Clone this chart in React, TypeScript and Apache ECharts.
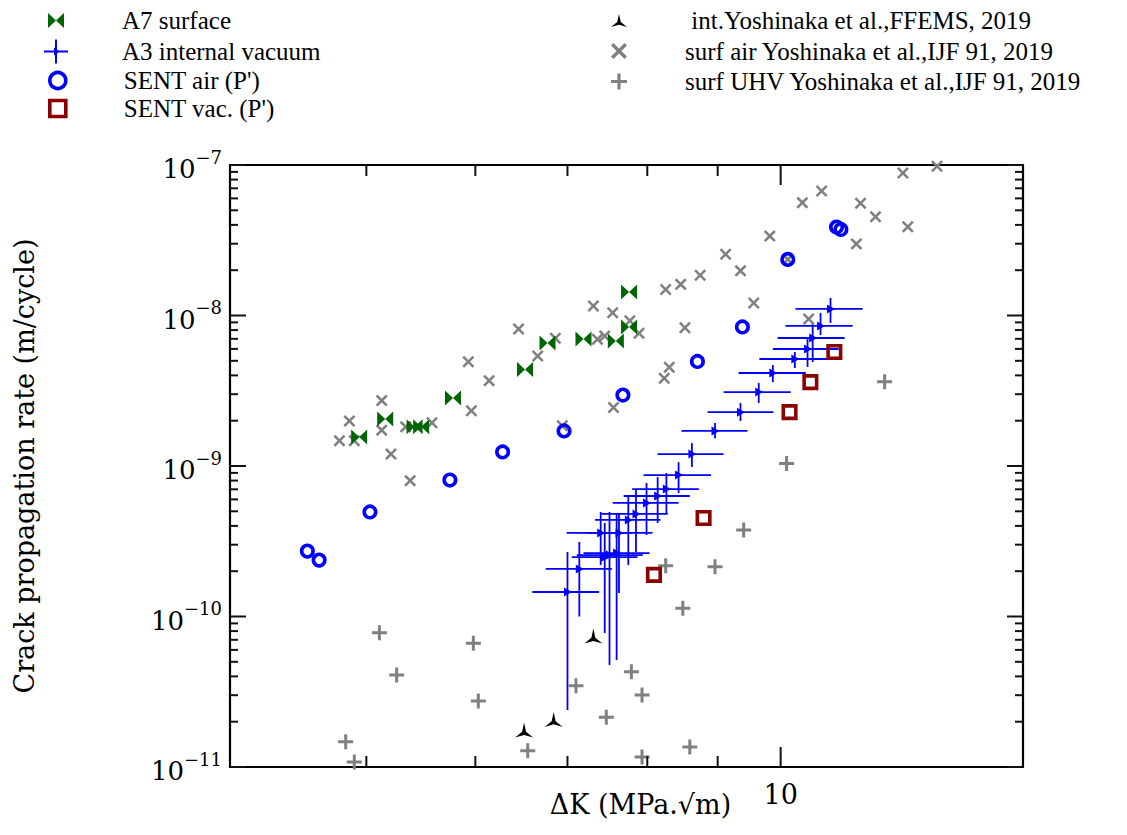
import React, { useEffect, useRef } from 'react';
import * as echarts from 'echarts';

// ---- axis ranges & ticks ----
const X_MIN = 3.98;
const X_MAX = 15;
const Y_MIN = 1e-11;
const Y_MAX = 1e-7;
const xMajorTicks = [10];
const xMinorTicks = [5, 6, 7, 8, 9];
const yMajorTicks = [1e-11, 1e-10, 1e-9, 1e-8, 1e-7];
const yDecades = [1e-11, 1e-10, 1e-9, 1e-8];
const yMantissas = [2, 3, 4, 5, 6, 7, 8, 9];
const yMinorTicks = yDecades.flatMap((d) => yMantissas.map((m) => m * d));

// ---- A7 surface ----
const a7K = [4.94, 5.16, 5.42, 5.48, 5.78, 6.52, 6.77, 7.19, 7.59, 7.76, 7.76];
const a7Rate = [1.56e-9, 2.05e-9, 1.82e-9, 1.82e-9, 2.83e-9, 4.38e-9, 6.57e-9, 6.98e-9, 6.77e-9, 8.39e-9, 1.43e-8];

// ---- A3 internal vacuum (with error bars) ----
const a3K = [7.0, 7.14, 7.45, 7.51, 7.6, 7.4, 7.63, 7.75, 7.85, 7.99, 8.14, 8.26, 8.43, 8.62, 8.96, 9.35, 9.64, 9.87, 10.24, 10.46, 10.55, 10.69, 10.87];
const a3KLow = [6.6, 6.75, 7.05, 7.11, 7.19, 6.99, 7.23, 7.33, 7.41, 7.55, 7.69, 7.8, 7.95, 8.14, 8.47, 8.85, 9.09, 9.32, 9.65, 9.87, 9.95, 10.08, 10.25];
const a3KHigh = [7.38, 7.54, 7.87, 7.94, 8.03, 7.8, 8.07, 8.18, 8.28, 8.43, 8.59, 8.72, 8.9, 9.09, 9.46, 9.88, 10.17, 10.43, 10.82, 11.02, 11.13, 11.28, 11.47];
const a3Rate = [1.455e-10, 2.07e-10, 2.48e-10, 2.56e-10, 2.64e-10, 3.59e-10, 3.59e-10, 4.38e-10, 4.8e-10, 5.68e-10, 6.32e-10, 7.03e-10, 8.71e-10, 1.2e-9, 1.71e-9, 2.28e-9, 3.1e-9, 4.15e-9, 5.14e-9, 5.99e-9, 7.09e-9, 8.52e-9, 1.105e-8];
const a3RateLow = [2.39e-11, 1.0e-10, 7.77e-11, 4.76e-11, 5.14e-11, 2.2e-10, 1.43e-10, 2.2e-10, 2.68e-10, 3.48e-10, 4.18e-10, 4.87e-10, 6.62e-10, 9.85e-10, 1.53e-9, 1.99e-9, 2.62e-9, 3.61e-9, 4.48e-9, 4.55e-9, 4.91e-9, 7.42e-9, 8.92e-9];
const a3RateHigh = [2.68e-10, 3.13e-10, 4.18e-10, 4.95e-10, 4.87e-10, 4.95e-10, 4.87e-10, 6.42e-10, 7.03e-10, 7.71e-10, 8.45e-10, 8.98e-10, 1.06e-9, 1.42e-9, 1.93e-9, 2.62e-9, 3.56e-9, 4.69e-9, 5.72e-9, 7.2e-9, 9.05e-9, 1.04e-8, 1.31e-8];

// ---- SENT air (P') ----
const sentAirK = [4.53, 4.62, 5.03, 5.75, 6.28, 6.96, 7.68, 8.7, 9.38, 10.12, 10.98, 11.06];
const sentAirRate = [2.72e-10, 2.37e-10, 4.95e-10, 8.07e-10, 1.24e-9, 1.71e-9, 2.96e-9, 4.95e-9, 8.39e-9, 2.36e-8, 3.87e-8, 3.73e-8];

// ---- SENT vac. (P') ----
const sentVacK = [8.09, 8.79, 10.15, 10.51, 10.94];
const sentVacRate = [1.89e-10, 4.51e-10, 2.28e-9, 3.61e-9, 5.72e-9];

// ---- int. Yoshinaka et al., FFEMS 2019 ----
const intK = [6.51, 6.84, 7.31];
const intRate = [1.76e-11, 2.07e-11, 7.42e-11];

// ---- surf air Yoshinaka et al., IJF 91, 2019 ----
const surfAirK = [4.78, 4.86, 4.9, 5.13, 5.13, 5.21, 5.34, 5.38, 5.58, 5.93, 5.96, 6.14, 6.45, 6.66, 6.86, 6.94, 7.31, 7.36, 7.45, 7.55, 7.56, 7.77, 7.89, 8.23, 8.3, 8.25, 8.46, 8.52, 8.74, 9.12, 9.35, 9.56, 9.82, 10.12, 10.37, 10.48, 10.71, 11.35, 11.43, 11.72, 12.27, 12.99, 12.37];
const surfAirRate = [1.47e-9, 1.99e-9, 1.47e-9, 2.72e-9, 1.73e-9, 1.2e-9, 1.82e-9, 7.99e-10, 1.94e-9, 4.93e-9, 2.33e-9, 3.69e-9, 8.13e-9, 5.38e-9, 7.06e-9, 1.85e-9, 1.156e-8, 6.95e-9, 7.31e-9, 1.044e-8, 2.45e-9, 9.23e-9, 7.62e-9, 3.83e-9, 4.53e-9, 1.49e-8, 1.61e-8, 8.3e-9, 1.85e-8, 2.55e-8, 1.98e-8, 1.21e-8, 3.37e-8, 2.36e-8, 5.62e-8, 9.48e-9, 6.72e-8, 2.99e-8, 5.57e-8, 4.53e-8, 8.85e-8, 9.8e-8, 3.89e-8];

// ---- surf UHV Yoshinaka et al., IJF 91, 2019 ----
const surfUhvK = [4.83, 4.9, 5.11, 5.26, 5.98, 6.03, 6.55, 7.1, 7.47, 7.79, 7.93, 7.93, 8.25, 8.49, 8.59, 8.96, 9.4, 10.1, 11.9];
const surfUhvRate = [1.47e-11, 1.08e-11, 7.8e-11, 4.09e-11, 6.64e-11, 2.74e-11, 1.28e-11, 3.47e-11, 2.14e-11, 4.3e-11, 3.01e-11, 1.165e-11, 2.17e-10, 1.134e-10, 1.36e-11, 2.14e-10, 3.76e-10, 1.04e-9, 3.63e-9];

// ---- names ----
const N_A7 = 'A7 surface';
const N_A3 = 'A3 internal vacuum';
const N_AIR = "SENT air (P')";
const N_VAC = "SENT vac. (P')";
const N_INT = ' int.Yoshinaka et al.,FFEMS, 2019';
const N_SAIR = 'surf air Yoshinaka et al.,IJF 91, 2019';
const N_SUHV = 'surf UHV Yoshinaka et al.,IJF 91, 2019';

const BOWTIE = 'path://M0,0 L8,7.5 L0,15 Z M16,0 L8,7.5 L16,15 Z';
const XMARK = 'path://M0,1.5 L1.5,0 L5,3.5 L8.5,0 L10,1.5 L6.5,5 L10,8.5 L8.5,10 L5,6.5 L1.5,10 L0,8.5 L3.5,5 Z';
const PLUS = 'path://M4,0 H6 V4 H10 V6 H6 V10 H4 V6 H0 V4 H4 Z';
const TRI = 'path://M10,0 L12.2,9.8 L20,16 L10,13.2 L0,16 L7.8,9.8 Z';
const A3ICON = 'path://M0,11 H24 V13 H0 Z M11,0 H13 V24 H11 Z M10,8 L16,12 L10,16 Z';

const SERIF = 'DejaVu Serif';
const LEG_FONT = 'Liberation Serif';

const zip = (a: number[], b: number[]) => a.map((v, i) => [v, b[i]]);

function App() {
  const ref = useRef<HTMLDivElement>(null);
  useEffect(() => {
    document.body.style.margin = '0';
    const chart = echarts.init(ref.current!, null, { renderer: 'svg' });

    const frame = { show: true, onZero: false, lineStyle: { color: '#000', width: 2.2 } };
    const tickStyle = { stroke: '#111', lineWidth: 2 };

    const xMain = (pos: string, main: boolean) => ({
      type: 'log', logBase: 10, min: X_MIN, max: X_MAX, position: pos, gridIndex: 0,
      name: main ? 'ΔK (MPa.√m)' : '',
      nameLocation: 'middle', nameGap: 24, nameMoveOverlap: false,
      nameTextStyle: { fontFamily: SERIF, fontSize: 27, color: '#000', padding: [0, 0, 0, 28] },
      axisLine: frame,
      axisTick: { show: false },
      axisLabel: main
        ? { show: true, customValues: xMajorTicks, margin: 14, align: 'center', fontFamily: SERIF, fontSize: 27, color: '#000', formatter: (v: number) => String(Math.round(v)) }
        : { show: false },
      splitLine: { show: false }, minorTick: { show: false },
    });
    const yMain = (pos: string, main: boolean) => ({
      type: 'log', logBase: 10, min: Y_MIN, max: Y_MAX, position: pos, gridIndex: 0,
      name: main ? 'Crack propagation rate (m/cycle)' : '',
      nameLocation: 'middle', nameRotate: 90, nameGap: 192, nameMoveOverlap: false,
      nameTextStyle: { fontFamily: SERIF, fontSize: 27, color: '#000' },
      axisLine: frame,
      axisTick: { show: false },
      axisLabel: main
        ? {
            show: true, customValues: yMajorTicks, margin: 8,
            formatter: (v: number) => `{b|10}{s|\u2212${-Math.round(Math.log10(v))}}`,
            rich: {
              b: { fontFamily: SERIF, fontSize: 26, color: '#000', lineHeight: 34, verticalAlign: 'bottom' },
              s: { fontFamily: SERIF, fontSize: 18, color: '#000', verticalAlign: 'top' },
            },
          }
        : { show: false },
      splitLine: { show: false }, minorTick: { show: false },
    });

    const legendText = (pad: number) => ({ fontFamily: LEG_FONT, fontSize: 25, color: '#000', lineHeight: 22, padding: [0, 0, 0, pad] });
    const scatterStyle = (color: string) => ({ color, opacity: 1 });

    const option: any = {
      animation: false,
      backgroundColor: '#fff',
      grid: { left: 230, right: 104, top: 165, bottom: 68, containLabel: false, outerBoundsMode: 'none' },
      xAxis: [xMain('bottom', true), xMain('top', false)],
      yAxis: [yMain('left', true), yMain('right', false)],
      legend: [
        { data: [N_A7], orient: 'vertical', left: 48, top: 8, padding: 0, itemWidth: 16, itemHeight: 16, itemGap: 7, selectedMode: false, textStyle: legendText(53) },
        { data: [{ name: N_A3, icon: A3ICON }], orient: 'vertical', left: 44, top: 39, padding: 0, itemWidth: 24, itemHeight: 24, selectedMode: false, textStyle: legendText(49) },
        { data: [N_AIR, N_VAC], orient: 'vertical', left: 48, top: 68, padding: 0, itemWidth: 16, itemHeight: 16, itemGap: 3, selectedMode: false, itemStyle: { borderWidth: 'inherit' }, textStyle: legendText(53) },
        { data: [N_INT, N_SAIR, N_SUHV], orient: 'vertical', left: 611, top: 8, padding: 0, itemWidth: 16, itemHeight: 16, itemGap: 5.5, selectedMode: false, textStyle: legendText(53) },
      ],
      series: [
        { name: N_SAIR, type: 'scatter', silent: true, symbol: XMARK, symbolSize: 12, itemStyle: scatterStyle('#808080'), data: zip(surfAirK, surfAirRate) },
        { name: N_SUHV, type: 'scatter', silent: true, symbol: PLUS, symbolSize: 15, itemStyle: scatterStyle('#808080'), data: zip(surfUhvK, surfUhvRate) },
        { name: N_INT, type: 'scatter', silent: true, symbol: TRI, symbolSize: [18, 15], itemStyle: scatterStyle('#000'), data: zip(intK, intRate) },
        { name: N_A7, type: 'scatter', silent: true, symbol: BOWTIE, symbolSize: [16, 15], itemStyle: scatterStyle('#006400'), data: zip(a7K, a7Rate) },
        {
          name: N_A3, type: 'custom', silent: true,
          itemStyle: { color: '#0000ff' },
          encode: { x: 0, y: 1 },
          data: a3K.map((k, i) => [k, a3Rate[i], a3KLow[i], a3KHigh[i], a3RateLow[i], a3RateHigh[i]]),
          renderItem: (params: any, api: any) => {
            const x = api.value(0), y = api.value(1);
            const c = api.coord([x, y]);
            const l = api.coord([api.value(2), y]);
            const r = api.coord([api.value(3), y]);
            const b = api.coord([x, api.value(4)]);
            const t = api.coord([x, api.value(5)]);
            const ls = { stroke: '#0000ff', lineWidth: 1.8 };
            return {
              type: 'group',
              children: [
                { type: 'line', shape: { x1: l[0], y1: c[1], x2: r[0], y2: c[1] }, style: ls },
                { type: 'line', shape: { x1: c[0], y1: t[1], x2: c[0], y2: b[1] }, style: ls },
                { type: 'polygon', shape: { points: [[c[0] - 3.5, c[1] - 4.5], [c[0] + 4.5, c[1]], [c[0] - 3.5, c[1] + 4.5]] }, style: { fill: '#0000ff' } },
              ],
            };
          },
        },
        {
          name: N_AIR, type: 'scatter', silent: true, symbol: 'circle', symbolSize: 11.5,
          itemStyle: { color: 'rgba(255,255,255,0)', borderColor: '#0000ff', borderWidth: 3.6, opacity: 1 },
          data: zip(sentAirK, sentAirRate),
        },
        {
          name: N_VAC, type: 'scatter', silent: true, symbol: 'rect', symbolSize: 12.5,
          itemStyle: { color: 'rgba(255,255,255,0)', borderColor: '#8b0000', borderWidth: 3.6, opacity: 1 },
          data: zip(sentVacK, sentVacRate),
        },
        // tick marks on x (bottom & top), placed through the x axis scale
        {
          type: 'custom', silent: true, clip: false, z: 20,
          encode: { x: 0, y: 1 },
          data: [...xMajorTicks.map((v) => [v, Y_MIN, 20]), ...xMinorTicks.map((v) => [v, Y_MIN, 11])],
          renderItem: (params: any, api: any) => {
            const cs = params.coordSys;
            const px = api.coord([api.value(0), api.value(1)])[0];
            const len = api.value(2);
            const b = cs.y + cs.height, t = cs.y;
            return {
              type: 'group',
              children: [
                { type: 'line', shape: { x1: px, y1: b, x2: px, y2: b - len }, style: tickStyle },
                { type: 'line', shape: { x1: px, y1: t, x2: px, y2: t + len }, style: tickStyle },
              ],
            };
          },
        },
        // tick marks on y (left & right), placed through the y axis scale
        {
          type: 'custom', silent: true, clip: false, z: 20,
          encode: { x: 0, y: 1 },
          data: [...yMajorTicks.map((v) => [X_MIN, v, 16]), ...yMinorTicks.map((v) => [X_MIN, v, 8])],
          renderItem: (params: any, api: any) => {
            const cs = params.coordSys;
            const py = api.coord([api.value(0), api.value(1)])[1];
            const len = api.value(2);
            const l = cs.x, r = cs.x + cs.width;
            return {
              type: 'group',
              children: [
                { type: 'line', shape: { x1: l, y1: py, x2: l + len, y2: py }, style: tickStyle },
                { type: 'line', shape: { x1: r, y1: py, x2: r - len, y2: py }, style: tickStyle },
              ],
            };
          },
        },
      ],
    };
    chart.setOption(option);
    return () => chart.dispose();
  }, []);
  return <div ref={ref} style={{ width: 1127, height: 835 }} />;
}

export default App;
